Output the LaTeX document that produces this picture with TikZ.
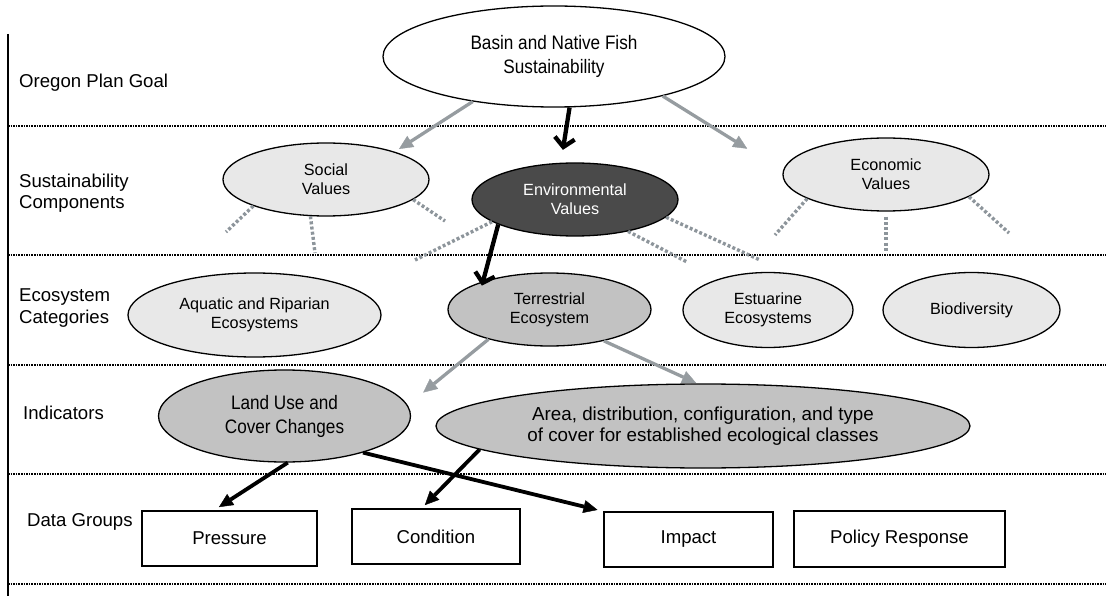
\documentclass[tikz,border=0pt]{standalone}
\usepackage{fontspec}
\setmainfont{Liberation Sans}
\newfontfamily\narrowsans[FakeStretch=0.88]{Liberation Sans}
\usetikzlibrary{shapes.geometric,arrows.meta}

\definecolor{lightfill}{HTML}{E8E8E8}
\definecolor{midfill}{HTML}{C2C2C2}
\definecolor{darkfill}{HTML}{4A4A4A}
\definecolor{linkgray}{HTML}{969CA0}
\definecolor{dotgray}{HTML}{8D959B}

\begin{document}
\begin{tikzpicture}[x=1pt,y=-1pt,
  oval/.style={ellipse, draw=black, line width=1.3pt, inner sep=0pt, align=center,
               font=\fontsize{16.2}{19}\selectfont},
  light/.style={oval, fill=lightfill},
  mid/.style={oval, fill=midfill},
  narrowtext/.style={font=\narrowsans\fontsize{19.5}{24}\selectfont},
  box/.style={draw=black, line width=1.3pt, inner sep=0pt, font=\fontsize{18.6}{22}\selectfont},
  rowlabel/.style={anchor=west, align=left, inner sep=0pt, font=\fontsize{18.6}{21.5}\selectfont},
  sep/.style={line width=2pt, dash pattern=on 1.5pt off 1.1pt},
  grayarrow/.style={draw=linkgray, line width=3.3pt,
                    -{Triangle[length=14pt,width=13pt,line width=0.4pt]}},
  blackarrow/.style={draw=black, line width=3.8pt,
                     -{Triangle[length=14pt,width=13pt,line width=0.4pt]}},
  bigarrow/.style={draw=black, line width=4.3pt, -{Straight Barb[length=9pt,width=20pt]}},
  spoke/.style={draw=dotgray, line width=3.4pt, dash pattern=on 3pt off 2.2pt}
]
\useasboundingbox (0,0) rectangle (1106,596);

% row separators and left rule
\foreach \y in {126,255,364.5,473.5,584}
  \draw[sep] (8,\y) -- (1106,\y);
\draw[line width=1.3pt] (8,34) -- (8,596);

% row labels
\node[rowlabel] (lgoal) at (19,83) {Oregon Plan Goal};
\node[rowlabel] (lsust) at (19,193) {Sustainability\\Components};
\node[rowlabel] (leco)  at (19,308) {Ecosystem\\Categories};
\node[rowlabel] (lind)  at (23,413) {Indicators};
\node[rowlabel] (ldata) at (27,522) {Data Groups};

% goal
\node[oval, fill=white, narrowtext, minimum width=342pt, minimum height=101pt] (goal) at (554,56.5)
  {Basin and Native Fish\\Sustainability};

% sustainability components
\node[light, minimum width=206pt, minimum height=73pt] (social) at (326,179.5) {Social\\Values};
\node[oval, fill=darkfill, text=white, minimum width=206pt, minimum height=73pt] (env) at (575,199.5)
  {Environmental\\Values};
\node[light, minimum width=206pt, minimum height=73pt] (econ) at (886,174.5) {Economic\\Values};

% ecosystem categories
\node[light, minimum width=253pt, minimum height=84pt] (aqua) at (254.5,315) {Aquatic and Riparian\\Ecosystems};
\node[mid, minimum width=203pt, minimum height=73pt] (terr) at (549.5,309.5) {Terrestrial\\Ecosystem};
\node[light, minimum width=170pt, minimum height=75pt] (estu) at (768,310) {Estuarine\\Ecosystems};
\node[light, minimum width=177pt, minimum height=75pt] (bio) at (971.5,310) {Biodiversity};

% indicators
\node[mid, narrowtext, minimum width=252pt, minimum height=92pt] (land) at (284.5,416)
  {Land Use and\\Cover Changes};
\node[mid, font=\fontsize{18.8}{20.5}\selectfont, minimum width=534pt, minimum height=84pt] (area) at (703,426)
  {Area, distribution, configuration, and type\\of cover for established ecological classes};

% data groups
\node[box, minimum width=175pt, minimum height=55pt] (pres) at (229.5,538.5) {Pressure};
\node[box, minimum width=168pt, minimum height=55pt] (cond) at (436,536.5) {Condition};
\node[box, minimum width=169pt, minimum height=55pt] (imp)  at (688.5,539.5) {Impact};
\node[box, minimum width=211pt, minimum height=56pt] (pol)  at (899.5,539) {Policy Response};

% loose ends of the dotted spokes
\coordinate (sa) at (226,232);
\coordinate (sb) at (315,253);
\coordinate (sc) at (445,221);
\coordinate (ea) at (415,260);
\coordinate (eb) at (687,262);
\coordinate (ec) at (760,260);
\coordinate (ca) at (775,235);
\coordinate (cb) at (886,253);
\coordinate (cc) at (1009,233);

\draw[spoke] (social.200.6) -- (sa);
\draw[spoke] (social.247.4) -- (sb);
\draw[spoke] (social.347.4) -- (sc);
\draw[spoke] (env.195.5) -- (ea);
\draw[spoke] (env.329.6) -- (eb);
\draw[spoke] (env.349.2) -- (ec);
\draw[spoke] (econ.197.4) -- (ca);
\draw[spoke, shorten <=5pt] (econ.270) -- (cb);
\draw[spoke] (econ.345.8) -- (cc);

% connectors
\draw[grayarrow, shorten >=5pt] (goal.209) -- (social.22);
\draw[bigarrow, shorten >=13pt] (goal.287) -- (env.111);
\draw[grayarrow, shorten >=42pt] (goal.340.6) -- (econ.178);
\draw[bigarrow, shorten >=-4.5pt] (env.198) -- (terr.157.4);
\draw[grayarrow, shorten >=20pt] (terr.206) -- (land.5.9);
\draw[grayarrow, shorten >=1pt] (terr.330.3) -- (area.98);
\draw[blackarrow, shorten >=6pt] (land.274.4) -- (pres.119.4);
\draw[blackarrow, shorten >=6pt] (land.335.4) -- (imp.north west);
\draw[blackarrow, shorten >=4.5pt] (area.186.5) -- (cond.117);
\end{tikzpicture}
\end{document}
